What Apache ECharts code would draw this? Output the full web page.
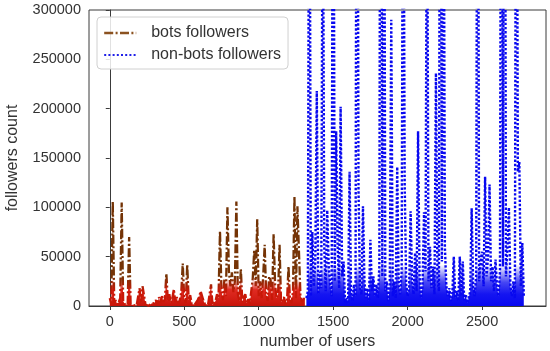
<!DOCTYPE html>
<html>
<head>
<meta charset="utf-8">
<script src="https://cdn.jsdelivr.net/npm/echarts@6/dist/echarts.min.js"></script>
<style>
html,body{margin:0;padding:0;background:#fff;}
#chart{width:550px;height:351px;}
</style>
</head>
<body>
<div id="chart"></div>
<script>
// user index of first sample and spacing between samples
const STEP = 10;
const BOTS_START = 0;
const NONBOTS_START = 1320;

// bots followers (users 0..1310, every 10th user)
const botsFollowers = [
  8000, 2000, 106000, 3000, 6000, 1500, 4000, 8000, 105000, 5000,
  2000, 3500, 1000, 70000, 2000, 1000, 800, 600, 500, 900,
  18000, 3000, 20000, 22000, 1500, 500, 300, 400, 2500, 1000,
  3000, 6000, 2000, 9000, 3000, 11000, 4000, 7000, 33000, 5000,
  12000, 3000, 8000, 17000, 4000, 9000, 2500, 6000, 14000, 43000,
  8000, 3000, 42000, 6000, 11000, 2000, 4000, 1500, 3000, 6000,
  9000, 15000, 17000, 5000, 2000, 1000, 1500, 3000, 22000, 1000,
  2000, 5000, 12000, 8000, 76000, 15000, 6000, 28000, 10000, 100000,
  35000, 20000, 34000, 14000, 25000, 106000, 12000, 5000, 38000, 4000,
  9000, 12000, 3000, 7000, 2000, 15000, 28000, 57000, 20000, 88000,
  10000, 25000, 8000, 30000, 62000, 12000, 5000, 30000, 26000, 6000,
  73000, 22000, 8000, 12000, 62000, 4000, 3000, 9000, 2000, 5000,
  40000, 7000, 3000, 15000, 111000, 8000, 101000, 99000, 12000, 4000,
  2000, 9000
];

// non-bots followers (users 1320..2780, every 10th user)
const nonBotsFollowers = [
  8000, 15000, 600000, 10000, 75000, 20000, 45000, 218000, 12000, 35000,
  18000, 500000, 60000, 15000, 97000, 40000, 22000, 10000, 700000, 25000,
  177000, 60000, 18000, 202000, 30000, 45000, 3000, 8000, 2000, 136000,
  15000, 5000, 22000, 10000, 800000, 119000, 20000, 12000, 101000, 25000,
  8000, 18000, 5000, 67000, 15000, 30000, 10000, 22000, 8000, 40000,
  900000, 30000, 700000, 15000, 25000, 5000, 20000, 290000, 10000, 25000,
  8000, 141000, 20000, 12000, 35000, 600000, 126000, 22000, 10000, 18000,
  96000, 25000, 12000, 54000, 15000, 177000, 30000, 8000, 20000, 95000,
  35000, 500000, 25000, 60000, 18000, 40000, 12000, 236000, 30000, 15000,
  800000, 45000, 600000, 60000, 20000, 10000, 18000, 5000, 12000, 50000,
  8000, 15000, 5000, 50000, 10000, 45000, 6000, 12000, 3000, 8000,
  15000, 99000, 20000, 10000, 30000, 700000, 25000, 45000, 55000, 20000,
  131000, 30000, 50000, 123000, 25000, 40000, 15000, 47000, 20000, 10000,
  35000, 800000, 40000, 900000, 30000, 60000, 100000, 20000, 10000, 25000,
  8000, 700000, 136000, 146000, 20000, 64000, 10000
];

const xTicks = [0, 500, 1000, 1500, 2000, 2500];
const yMax = 300000;
const yInterval = 50000;

const toPairs = (start, arr) => arr.map((v, i) => [start + i * STEP, v]);

const TXT = '#333333';
const GRID_TOP = 10, GRID_H = 296;
const chart = echarts.init(document.getElementById('chart'), null, {renderer: 'canvas'});
chart.setOption({
  animation: false,
  backgroundColor: '#ffffff',
  textStyle: {fontFamily: 'Liberation Sans, Arial, sans-serif'},
  grid: {left: 89, top: GRID_TOP, width: 457, height: GRID_H, show: true,
         outerBoundsMode: 'none', containLabel: false,
         borderColor: '#3a3a3a', borderWidth: 1, backgroundColor: 'transparent'},
  legend: {
    left: 97, top: 17, orient: 'vertical',
    padding: [8, 7, 6, 6], itemGap: 6, itemWidth: 32, itemHeight: 14,
    backgroundColor: 'rgba(255,255,255,0.85)', borderColor: '#d0d0d0', borderWidth: 1, borderRadius: 4,
    itemStyle: {opacity: 0},
    textStyle: {fontSize: 16, color: TXT, lineHeight: 16, padding: [0, 0, 0, 10],
                fontFamily: 'Liberation Sans, Arial, sans-serif'},
    data: [
      {name: 'bots followers', itemStyle: {opacity: 0},
       lineStyle: {color: '#8B5220', width: 2.4, type: [9, 2.4, 2, 2.4]}},
      {name: 'non-bots followers', itemStyle: {opacity: 0},
       lineStyle: {color: '#2020e8', width: 2, type: [2, 2.2]}}
    ]
  },
  xAxis: {
    type: 'value', min: -139.5, max: 2929,
    name: 'number of users', nameLocation: 'middle', nameGap: 28,
    nameTextStyle: {fontSize: 16, color: TXT},
    axisLine: {show: true, lineStyle: {color: '#3a3a3a', width: 1}},
    axisTick: {show: true, length: 4, customValues: xTicks, lineStyle: {color: '#3a3a3a'}},
    axisLabel: {customValues: xTicks, fontSize: 14.5, color: TXT, margin: 8,
                formatter: v => String(v)},
    splitLine: {show: false}
  },
  yAxis: {
    type: 'value', min: 0, max: yMax, interval: yInterval,
    name: 'followers count', nameLocation: 'middle', nameGap: 68, nameRotate: 90,
    nameTextStyle: {fontSize: 16, color: TXT},
    axisLine: {show: true, lineStyle: {color: '#3a3a3a', width: 1}},
    axisTick: {show: true, length: 4, lineStyle: {color: '#3a3a3a'}},
    axisLabel: {fontSize: 14.5, color: TXT, margin: 8, formatter: v => String(v)},
    splitLine: {show: false}
  },
  series: [
    {
      name: 'bots followers', type: 'line', symbol: 'none', clip: true,
      data: toPairs(BOTS_START, botsFollowers),
      lineStyle: {
        width: 2.3, type: [9, 2.4, 2, 2.4],
        color: {type: 'linear', global: true, x: 0, y: GRID_TOP, x2: 0, y2: GRID_TOP + GRID_H, colorStops: [
          {offset: 0, color: '#6a2e04'},
          {offset: 0.9, color: '#763406'},
          {offset: 0.95, color: '#c81808'},
          {offset: 1, color: '#c81808'}
        ]}
      },
      areaStyle: {
        opacity: 1,
        color: {type: 'linear', global: true, x: 0, y: GRID_TOP, x2: 0, y2: GRID_TOP + GRID_H, colorStops: [
          {offset: 0, color: 'rgba(220,20,10,0)'},
          {offset: 0.91, color: 'rgba(220,20,10,0)'},
          {offset: 0.945, color: 'rgba(220,20,10,0.9)'},
          {offset: 1, color: 'rgba(200,20,10,1)'}
        ]}
      },
      itemStyle: {color: '#8B5220'}
    },
    {
      name: 'non-bots followers', type: 'line', symbol: 'none', clip: true,
      data: toPairs(NONBOTS_START, nonBotsFollowers),
      lineStyle: {width: 2.4, type: [2.4, 1.8], color: '#0808f0'},
      areaStyle: {
        opacity: 1,
        color: {type: 'linear', global: true, x: 0, y: GRID_TOP, x2: 0, y2: GRID_TOP + GRID_H, colorStops: [
          {offset: 0, color: 'rgba(8,8,240,0)'},
          {offset: 0.86, color: 'rgba(8,8,240,0)'},
          {offset: 0.92, color: 'rgba(8,8,240,0.75)'},
          {offset: 0.96, color: 'rgba(8,8,240,0.95)'},
          {offset: 1, color: 'rgba(8,8,240,1)'}
        ]}
      },
      itemStyle: {color: '#0808f0'}
    }
  ]
});
</script>
</body>
</html>
